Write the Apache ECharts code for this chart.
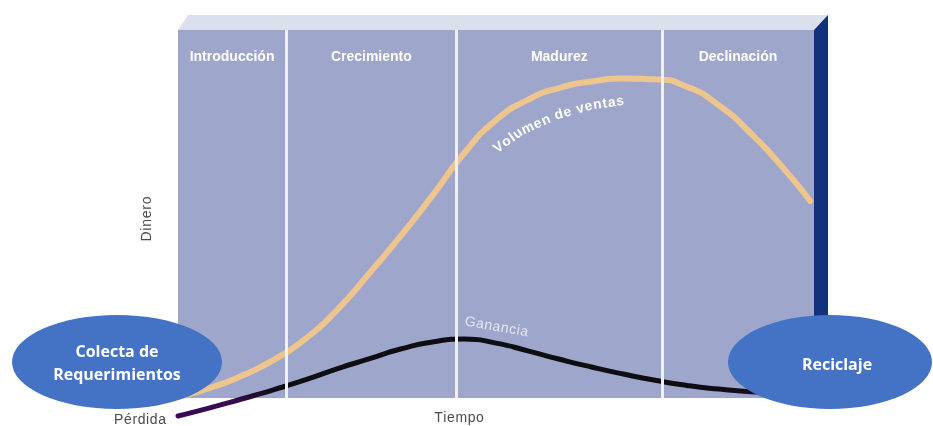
<!DOCTYPE html>
<html>
<head>
<meta charset="utf-8">
<title>Ciclo de vida del producto</title>
<script src="https://cdn.jsdelivr.net/npm/echarts@6/dist/echarts.min.js"></script>
<style>
  html, body { margin: 0; padding: 0; background: #ffffff; }
  #chart { width: 933px; height: 426px; }
</style>
</head>
<body>
<div id="chart"></div>
<script>
// Product life-cycle phases (boundaries on the time axis, 0..100)
const phaseNames = ['Introducción', 'Crecimiento', 'Madurez', 'Declinación'];
const phaseBounds = [0, 17.0, 43.8, 76.1, 100];

// Sales volume curve
const salesTime   = [0, 5, 10, 15, 20, 25, 30, 35, 40, 45, 50, 55, 60, 65, 70, 75, 80, 85, 90, 95, 99.4];
const salesValues = [0.3, 2.7, 6.0, 10.3, 16.0, 23.9, 33.7, 44.0, 55.0, 66.5, 75.5, 81.0, 84.3, 86.0, 86.8, 86.6, 84.6, 79.6, 72.0, 62.8, 53.5];

// Profit curve (negative part = loss)
const profitTime   = [0, 5, 10, 15, 20, 25, 30, 35, 40, 45, 50, 55, 60, 65, 70, 75, 80, 85, 90, 95];
const profitValues = [-4.9, -2.7, -0.3, 2.2, 4.9, 7.9, 10.6, 13.3, 15.2, 16.0, 14.9, 12.8, 10.5, 8.4, 6.5, 4.8, 3.4, 2.4, 1.7, 1.3];

const PANEL = '#9ea6cc';
const SALES = '#efc58e';
const ELLIPSE = '#4472c4';
const LOSS = '#3a0b55';
const GAIN = '#0e0d12';
const BASE_FONT = '"Liberation Sans", Arial, sans-serif';

const salesData = salesTime.map((t, i) => [t, salesValues[i]]);
const profitData = profitTime.map((t, i) => [t, profitValues[i]]);

const phaseAreas = phaseNames.map((name, i) => [
  { name: name, coord: [phaseBounds[i], 0] },
  { coord: [phaseBounds[i + 1], 100] }
]);
const dividers = phaseBounds.slice(1, -1).map(x => [{ coord: [x, 0] }, { coord: [x, 100] }]);

const chart = echarts.init(document.getElementById('chart'), null, { renderer: 'canvas' });

chart.setOption({
  animation: false,
  backgroundColor: '#ffffff',
  grid: { left: 178, right: 119, top: 30, bottom: 6 },
  xAxis: {
    type: 'value', min: 0, max: 100,
    axisLine: { show: false }, axisTick: { show: false },
    axisLabel: { show: false }, splitLine: { show: false }
  },
  yAxis: {
    type: 'value', min: -6, max: 100,
    axisLine: { show: false }, axisTick: { show: false },
    axisLabel: { show: false }, splitLine: { show: false }
  },
  series: [
    {
      name: 'Volumen de ventas',
      type: 'line',
      data: salesData,
      smooth: 0.6,
      symbol: 'none',
      lineStyle: { color: SALES, width: 6, cap: 'round' },
      markArea: {
        silent: true,
        itemStyle: { color: PANEL, opacity: 1 },
        label: {
          show: true, position: 'insideTop', distance: 20,
          color: '#ffffff', fontWeight: 'bold', fontSize: 14,
          fontFamily: BASE_FONT
        },
        data: phaseAreas
      },
      markLine: {
        silent: true, symbol: 'none',
        label: { show: false },
        lineStyle: { color: '#eef0f7', width: 3, type: 'solid' },
        data: dividers
      }
    },
    {
      name: 'Ganancia',
      type: 'line',
      data: profitData,
      smooth: 0.6,
      symbol: 'none',
      lineStyle: { width: 5, cap: 'round', color: GAIN }
    }
  ]
});

// Loss part of the profit curve: colour switches at the zero line
const zeroY = chart.convertToPixel({ gridIndex: 0 }, [0, 0])[1];
chart.setOption({
  series: [{}, {
    lineStyle: {
      color: {
        type: 'linear', global: true, x: 0, y: 0, x2: 0, y2: 426,
        colorStops: [
          { offset: 0, color: GAIN },
          { offset: (zeroY - 8) / 426, color: GAIN },
          { offset: (zeroY + 4) / 426, color: LOSS },
          { offset: 1, color: LOSS }
        ]
      }
    }
  }]
});

// ---- decorations: box depth, ellipses and annotation text ----
const tl = chart.convertToPixel({ gridIndex: 0 }, [0, 100]);
const tr = chart.convertToPixel({ gridIndex: 0 }, [100, 100]);
const br = chart.convertToPixel({ gridIndex: 0 }, [100, 0]);

const measureCtx = document.createElement('canvas').getContext('2d');
function charWidth(ch, font) {
  measureCtx.font = font;
  return measureCtx.measureText(ch).width;
}

// Lay out text character by character along a polyline, centred on it
function textAlong(text, pts, font, fill, spacing) {
  const segs = [];
  let total = 0;
  for (let i = 0; i < pts.length - 1; i++) {
    const dx = pts[i + 1][0] - pts[i][0], dy = pts[i + 1][1] - pts[i][1];
    const len = Math.hypot(dx, dy);
    segs.push({ x: pts[i][0], y: pts[i][1], dx: dx / len, dy: dy / len, len: len, s0: total });
    total += len;
  }
  const widths = Array.from(text).map(ch => charWidth(ch, font));
  const textLen = widths.reduce((a, b) => a + b, 0) + spacing * (widths.length - 1);
  let s = (total - textLen) / 2;
  const out = [];
  Array.from(text).forEach((ch, i) => {
    const mid = s + widths[i] / 2;
    let seg = segs[segs.length - 1];
    for (const sg of segs) { if (mid <= sg.s0 + sg.len) { seg = sg; break; } }
    const t = mid - seg.s0;
    out.push({
      type: 'text', z: 20,
      x: seg.x + seg.dx * t, y: seg.y + seg.dy * t,
      rotation: -Math.atan2(seg.dy, seg.dx),
      style: { text: ch, fill: fill, font: font, textAlign: 'center', textVerticalAlign: 'middle' }
    });
    s += widths[i] + spacing;
  });
  return out;
}

function txt(text, x, y, opts) {
  return {
    type: 'text', x: x, y: y, z: 20,
    rotation: (opts.rot || 0) * Math.PI / 180,
    style: {
      text: text, fill: opts.fill || '#ffffff', font: opts.font,
      textAlign: 'center', textVerticalAlign: 'middle', lineHeight: opts.lineHeight
    }
  };
}

function ellipse(cx, cy, rx, ry) {
  return {
    type: 'circle', x: cx, y: cy, scaleX: rx / ry, scaleY: 1, z: 15,
    shape: { cx: 0, cy: 0, r: ry },
    style: { fill: ELLIPSE }
  };
}

const GREY = '#4a4a4a';
chart.setOption({
  graphic: [
    {
      type: 'polygon', z: 1,
      shape: { points: [[tl[0], tl[1]], [tr[0], tr[1]], [tr[0] + 14, tr[1] - 15], [tl[0] + 10, tl[1] - 15]] },
      style: { fill: '#dcdfec' }
    },
    {
      type: 'polygon', z: 1,
      shape: { points: [[tr[0], tr[1]], [tr[0] + 14, tr[1] - 15], [br[0] + 14, br[1] - 13], [br[0], br[1]]] },
      style: { fill: '#12327e' }
    },
    ellipse(117, 362, 105, 47),
    ellipse(830, 362, 102, 47),
    txt('Colecta de\nRequerimientos', 117, 364, { font: 'bold 16px "Open Sans", sans-serif', lineHeight: 23 }),
    txt('Reciclaje', 837, 365, { font: 'bold 16px "Open Sans", sans-serif' }),
    ...textAlong('Volumen de ventas', [[490, 154], [520, 132], [555, 116], [590, 106], [630, 100]],
      'bold 14px ' + BASE_FONT, '#ffffff', 0.8),
    ...textAlong('Ganancia', [[462, 321], [531, 333]], '14px ' + BASE_FONT, '#e4e7f4', 0.6),
    ...textAlong('Dinero', [[147, 244], [147, 194]], '14px ' + BASE_FONT, GREY, 0.8),
    ...textAlong('Tiempo', [[432, 418], [486, 418]], '14px ' + BASE_FONT, GREY, 0.6),
    ...textAlong('Pérdida', [[112, 420], [168, 420]], '14px ' + BASE_FONT, GREY, 0.6)
  ]
});
</script>
</body>
</html>
